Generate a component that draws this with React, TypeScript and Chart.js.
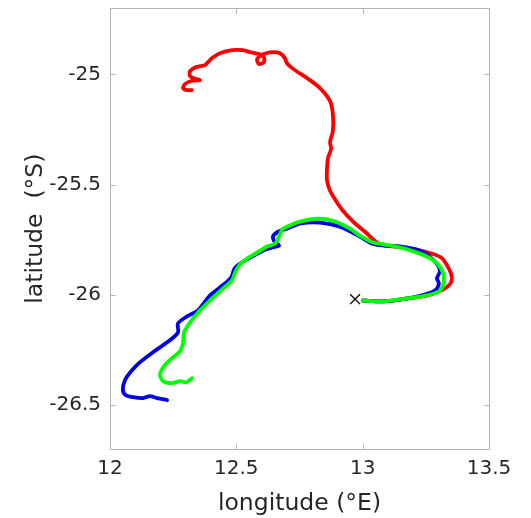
import { useEffect, useRef } from 'react';
import { Chart, registerables } from 'chart.js';

Chart.register(...registerables);

const xTicks = [12, 12.5, 13, 13.5];
const yTicks = [-26.5, -26, -25.5, -25];
const xMin = 12;
const xMax = 13.5;
const yMin = -26.7;
const yMax = -24.7;

const redLon = [13.001, 13.080, 13.175, 13.258, 13.318, 13.345, 13.353, 13.341, 13.310, 13.246, 13.167, 13.088, 13.057, 13.009, 12.962, 12.922, 12.894, 12.871, 12.859, 12.859, 12.863, 12.875, 12.871, 12.882, 12.882, 12.871, 12.831, 12.780, 12.744, 12.716, 12.700, 12.692, 12.673, 12.645, 12.617, 12.598, 12.582, 12.590, 12.609, 12.609, 12.590, 12.554, 12.526, 12.483, 12.435, 12.404, 12.384, 12.376, 12.340, 12.317, 12.317, 12.340, 12.356, 12.321, 12.297, 12.289, 12.305, 12.324];
const redLat = [-26.026, -26.030, -26.017, -26.003, -25.976, -25.953, -25.922, -25.881, -25.831, -25.804, -25.786, -25.777, -25.763, -25.714, -25.668, -25.619, -25.573, -25.528, -25.483, -25.424, -25.379, -25.338, -25.306, -25.257, -25.180, -25.121, -25.062, -25.017, -24.990, -24.967, -24.949, -24.926, -24.904, -24.899, -24.904, -24.913, -24.931, -24.953, -24.944, -24.922, -24.908, -24.899, -24.890, -24.890, -24.904, -24.926, -24.949, -24.958, -24.967, -24.985, -25.008, -25.021, -25.026, -25.030, -25.044, -25.062, -25.071, -25.071];

const blueLon = [13.001, 13.080, 13.175, 13.246, 13.286, 13.302, 13.294, 13.306, 13.278, 13.227, 13.148, 13.088, 13.037, 12.989, 12.910, 12.831, 12.752, 12.700, 12.665, 12.645, 12.653, 12.669, 12.641, 12.605, 12.542, 12.495, 12.479, 12.435, 12.396, 12.348, 12.305, 12.269, 12.269, 12.226, 12.170, 12.119, 12.087, 12.059, 12.051, 12.063, 12.091, 12.131, 12.158, 12.186, 12.226];
const blueLat = [-26.026, -26.030, -26.017, -25.999, -25.981, -25.949, -25.926, -25.890, -25.840, -25.800, -25.781, -25.777, -25.768, -25.736, -25.691, -25.673, -25.677, -25.700, -25.714, -25.736, -25.763, -25.777, -25.786, -25.800, -25.840, -25.877, -25.922, -25.967, -26.003, -26.071, -26.098, -26.130, -26.171, -26.216, -26.261, -26.306, -26.343, -26.388, -26.433, -26.456, -26.465, -26.469, -26.460, -26.469, -26.478];

const greenLon = [13.001, 13.080, 13.175, 13.254, 13.306, 13.322, 13.310, 13.270, 13.179, 13.088, 13.041, 12.989, 12.950, 12.882, 12.819, 12.752, 12.700, 12.681, 12.669, 12.653, 12.621, 12.582, 12.542, 12.514, 12.495, 12.483, 12.447, 12.396, 12.356, 12.317, 12.293, 12.289, 12.277, 12.245, 12.214, 12.198, 12.210, 12.245, 12.277, 12.301, 12.324];
const greenLat = [-26.026, -26.030, -26.017, -26.003, -25.981, -25.935, -25.881, -25.836, -25.795, -25.772, -25.763, -25.732, -25.700, -25.664, -25.655, -25.668, -25.691, -25.705, -25.736, -25.768, -25.781, -25.809, -25.836, -25.863, -25.899, -25.935, -25.972, -26.026, -26.071, -26.125, -26.171, -26.220, -26.257, -26.288, -26.324, -26.361, -26.392, -26.401, -26.392, -26.397, -26.379];

const releaseLon = [12.97];
const releaseLat = [-26.02];

const toPoints = (xs: number[], ys: number[]) => xs.map((x, i) => ({ x, y: ys[i] }));

const FONT = 'DejaVu Sans';
const TEXT = '#262626';
const AXIS = '#b4b4b4';

const boxPlugin = {
  id: 'matlabBox',
  afterDraw(chart: any) {
    const { ctx, chartArea: a, scales } = chart;
    ctx.save();
    ctx.strokeStyle = AXIS;
    ctx.lineWidth = 1;
    ctx.beginPath();
    const L = Math.round(a.left) + 0.5;
    const R = Math.round(a.right) + 0.5;
    const T = Math.round(a.top) + 0.5;
    const B = Math.round(a.bottom) + 0.5;
    ctx.rect(L, T, R - L, B - T);
    const tl = 5;
    xTicks.forEach((v) => {
      const px = Math.round(scales.x.getPixelForValue(v)) + 0.5;
      ctx.moveTo(px, B); ctx.lineTo(px, B - tl);
      ctx.moveTo(px, T); ctx.lineTo(px, T + tl);
    });
    yTicks.forEach((v) => {
      const py = Math.round(scales.y.getPixelForValue(v)) + 0.5;
      ctx.moveTo(L, py); ctx.lineTo(L + tl, py);
      ctx.moveTo(R, py); ctx.lineTo(R - tl, py);
    });
    ctx.stroke();
    ctx.restore();
  },
};

export default function App() {
  const ref = useRef<HTMLCanvasElement | null>(null);
  useEffect(() => {
    if (!ref.current) return;
    const line = (label: string, xs: number[], ys: number[], color: string, order: number) => ({
      label,
      data: toPoints(xs, ys),
      showLine: true,
      borderColor: color,
      backgroundColor: color,
      borderWidth: 3.8,
      pointRadius: 0,
      tension: 0.3,
      borderCapStyle: 'round',
      borderJoinStyle: 'round',
      order,
    });
    const chart = new Chart(ref.current, {
      type: 'scatter',
      data: {
        datasets: [
          {
            label: 'release',
            data: toPoints(releaseLon, releaseLat),
            pointStyle: 'crossRot',
            pointRadius: 7,
            borderColor: '#000000',
            backgroundColor: '#000000',
            borderWidth: 1.3,
            showLine: false,
            order: 0,
          },
          line('green', greenLon, greenLat, '#00ff00', 1),
          line('blue', blueLon, blueLat, '#0000e6', 2),
          line('red', redLon, redLat, '#ff0000', 3),
        ] as any,
      },
      options: {
        animation: false,
        responsive: false,
        maintainAspectRatio: false,
        devicePixelRatio: 1,
        layout: { padding: { top: 7, right: 42, left: 0, bottom: 0 } },
        plugins: { legend: { display: false }, tooltip: { enabled: false } },
        scales: {
          x: {
            type: 'linear',
            min: xMin,
            max: xMax,
            afterBuildTicks: (s: any) => { s.ticks = xTicks.map((v) => ({ value: v })); },
            afterFit: (s: any) => { s.height = 69; s.paddingLeft = 0; s.paddingRight = 0; },
            grid: { display: false, drawTicks: false },
            border: { display: false },
            ticks: {
              padding: 8,
              autoSkip: false,
              maxRotation: 0,
              color: TEXT,
              font: { family: FONT, size: 20 },
              callback: (v: any) => String(v),
            },
            title: {
              display: true,
              text: 'longitude (°E)',
              color: TEXT,
              font: { family: FONT, size: 23.5 },
              padding: { top: 0, bottom: 0 },
            },
          },
          y: {
            type: 'linear',
            min: yMin,
            max: yMax,
            afterBuildTicks: (s: any) => { s.ticks = yTicks.map((v) => ({ value: v })); },
            afterFit: (s: any) => { s.width = 110; s.paddingTop = 0; s.paddingBottom = 0; },
            grid: { display: false, drawTicks: false },
            border: { display: false },
            ticks: {
              padding: 9,
              autoSkip: false,
              color: TEXT,
              font: { family: FONT, size: 20 },
              callback: (v: any) => String(v),
            },
            title: {
              display: true,
              text: 'latitude  (°S)',
              color: TEXT,
              font: { family: FONT, size: 23.5 },
              padding: { top: 22, bottom: 0 },
            },
          },
        },
      } as any,
      plugins: [boxPlugin],
    });
    return () => chart.destroy();
  }, []);
  return (
    <div style={{ position: 'fixed', left: 0, top: 0, width: 531, height: 518, background: '#fff' }}>
      <canvas ref={ref} width={531} height={518} />
    </div>
  );
}
